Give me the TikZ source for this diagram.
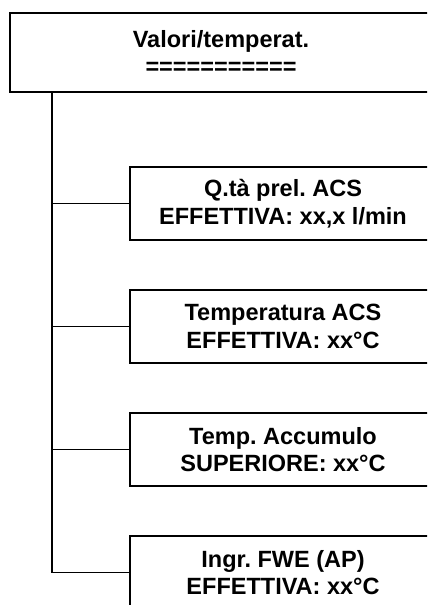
\documentclass[tikz,border=0pt]{standalone}
\usepackage{fontspec}
\setmainfont{Liberation Sans}
\usetikzlibrary{positioning}
\tikzstyle{menubox}=[draw, rectangle, line width=2.6bp, align=center,
					inner sep=0pt, outer sep=0pt,
					font=\bfseries\frenchspacing\fontsize{23.5bp}{27.5bp}\selectfont]

\begin{document}
\begin{tikzpicture}[
 x=1bp, y=1bp,
 headnode/.style={menubox, minimum width=422bp, minimum height=79bp},
 itemnode/.style={menubox, minimum width=306bp, minimum height=73bp},
 link/.style={draw=black, line width=1.5bp},
 node distance=50bp,
 ]
 \useasboundingbox (0,0) rectangle (427,-605);
 \clip (0,0) rectangle (427,-605);
 %Nodes
 \node[headnode]   (valori_node)  at (221,-52.5) {Valori/temperat.\\===========};
 \node[itemnode]   (qta_node)     [below right=75bp and 120bp of valori_node.south west] {Q.tà prel. ACS\\EFFETTIVA: xx,x l/min};
 \node[itemnode]   (tacs_node)    [below=of qta_node] {Temperatura ACS\\EFFETTIVA: xx°C};
 \node[itemnode]   (accumulo_node) [below=of tacs_node] {Temp. Accumulo\\SUPERIORE: xx°C};
 \node[itemnode]   (fwe_node)     [below=of accumulo_node] {Ingr. FWE (AP)\\EFFETTIVA: xx°C};
 \coordinate[right=42bp of valori_node.south west] (root);

 %Lines
 \draw[link] (root) |- (qta_node.west);
 \draw[link] (root) |- (tacs_node.west);
 \draw[link] (root) |- (accumulo_node.west);
 \draw[link] (root) |- (fwe_node.west);
\end{tikzpicture}
\end{document}
